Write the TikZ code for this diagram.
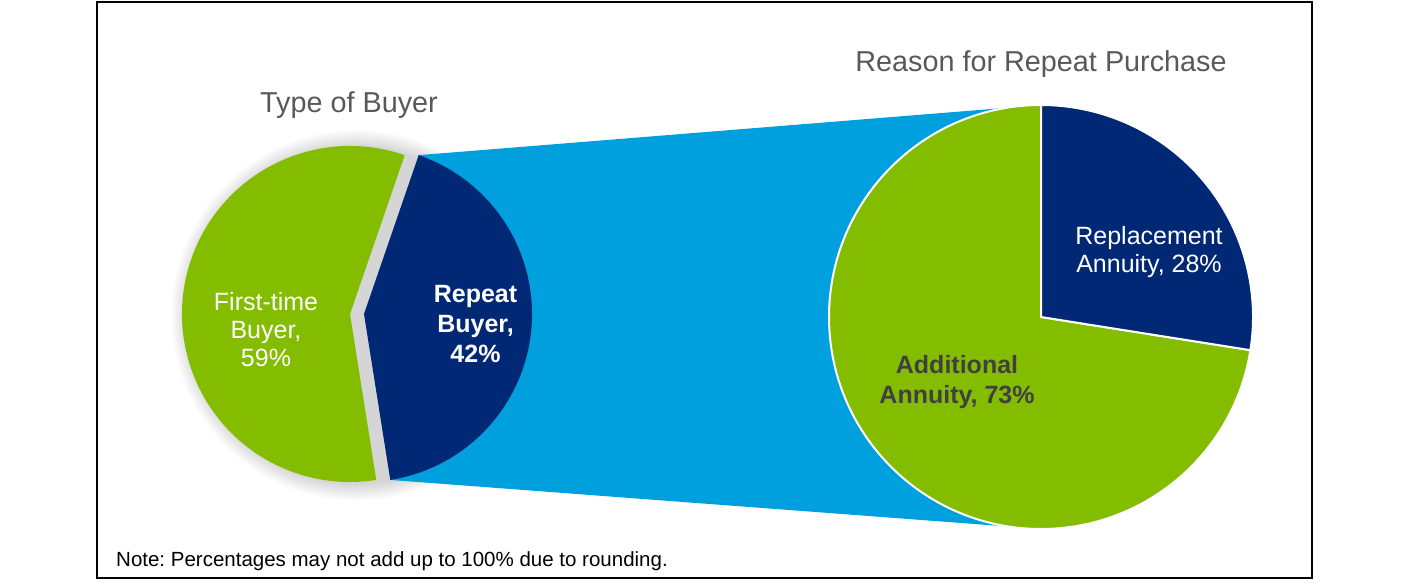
\documentclass[tikz,border=0pt]{standalone}
\usepackage{fontspec}
\setmainfont{Liberation Sans}
\usepackage{xcolor}
\usepackage{tikz}
\frenchspacing

\definecolor{buyergreen}{RGB}{132,189,0}
\definecolor{buyerblue}{RGB}{0,40,116}
\definecolor{linkcyan}{RGB}{0,160,222}
\definecolor{titlegray}{RGB}{89,89,89}
\definecolor{labelgray}{RGB}{64,64,64}
\pgfdeclareradialshading{pieglow}{\pgfpoint{0bp}{0bp}}{color(0bp)=(gray!33); color(22.6bp)=(gray!33); color(25bp)=(white); color(50bp)=(white)}

\begin{document}
\begin{tikzpicture}[x=1pt, y=1pt,
    title/.style={text=titlegray, font=\fontsize{28.8}{32}\selectfont, anchor=base, inner sep=0pt},
    pielabel/.style={align=center, inner sep=0pt, font=\fontsize{25}{28}\selectfont},
    boldlabel/.style={pielabel, font=\fontsize{25}{30}\selectfont\bfseries}]
    \useasboundingbox (0,0) rectangle (1415,-584);
    % Frame
    \draw[line width=1.5pt] (97,-2) rectangle (1312,-578);

    % Pie centres
    \coordinate (lc) at (350,-314);
    \coordinate (bc) at (364,-314);
    \coordinate (rc) at (1041,-317);

    % Soft shadow behind the left pie
    \shade[shading=pieglow] (356,-315) circle (186);

    % Band from the repeat slice to the right pie
    \fill[linkcyan] ([shift={(71:168)}]bc) -- ([shift={(90:212)}]rc)
        -- ([shift={(-90:212)}]rc) -- ([shift={(-81:168)}]bc) -- cycle;

    % Left pie (repeat slice pulled out)
    \fill[buyergreen] (lc) -- ++(71:168) arc[start angle=71, end angle=279, radius=168] -- cycle;
    \fill[buyerblue] (bc) -- ++(-81:168) arc[start angle=-81, end angle=71, radius=168] -- cycle;

    % Right pie
    \filldraw[fill=buyergreen, draw=white, line width=2pt] (rc) -- ++(90:212) arc[start angle=90, end angle=351, radius=212] -- cycle;
    \filldraw[fill=buyerblue, draw=white, line width=2pt] (rc) -- ++(-9:212) arc[start angle=-9, end angle=90, radius=212] -- cycle;

    % Titles
    \node[title] (buyertitle) at (349,-112) {Type of Buyer};
    \node[title] (reasontitle) at (1041,-71) {Reason for Repeat Purchase};

    % Slice labels
    \node[pielabel, text=white] (firsttime) at (266,-329.5) {First-time\\Buyer,\\59\%};
    \node[boldlabel, text=white] (repeat) at (475.5,-324) {Repeat\\Buyer,\\42\%};
    \node[pielabel, text=white] (replacement) at (1149,-252.5) {Replacement\\Annuity, 28\%};
    \node[boldlabel, text=labelgray] (additional) at (957,-382.5) {Additional\\Annuity, 73\%};

    % Note
    \node[anchor=base west, inner sep=0pt, font=\fontsize{20.5}{24}\selectfont] (note) at (116,-566) {Note: Percentages may not add up to 100\% due to rounding.};
\end{tikzpicture}
\end{document}
